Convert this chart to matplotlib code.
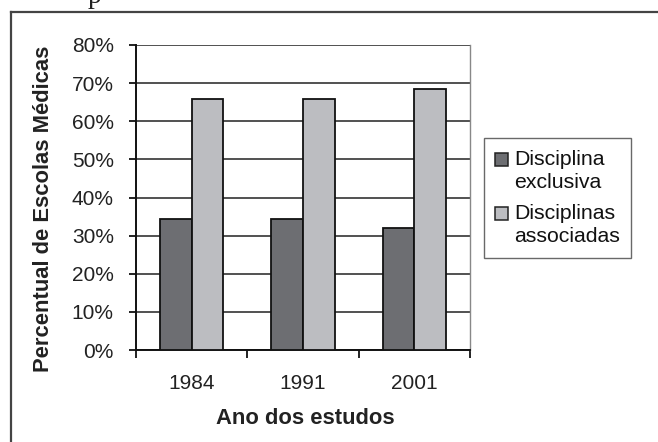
import matplotlib
matplotlib.use("Agg")
import matplotlib.pyplot as plt
from matplotlib.patches import Rectangle
from matplotlib.legend_handler import HandlerBase
from matplotlib.container import BarContainer
from matplotlib.lines import Line2D
import numpy as np

plt.rcParams['font.family'] = ['Liberation Sans', 'DejaVu Sans']

years = ["1984", "1991", "2001"]
exclusiva = [0.344, 0.344, 0.320]
associadas = [0.659, 0.659, 0.684]
series_labels = ["Disciplina\nexclusiva", "Disciplinas\nassociadas"]
ytick_values = [0.0, 0.1, 0.2, 0.3, 0.4, 0.5, 0.6, 0.7, 0.8]
ytick_labels = ["0%", "10%", "20%", "30%", "40%", "50%", "60%", "70%", "80%"]

dark = "#6d6e72"
light = "#bcbdc1"

W, H = 658, 442
fig = plt.figure(figsize=(W / 100, H / 100), dpi=100)
fig.patch.set_facecolor("white")

# outer frame (cropped: top and left visible)
fig.add_artist(Line2D([11 / W, 1.0], [1 - 12 / H, 1 - 12 / H], transform=fig.transFigure,
                      color="#444444", lw=1.6))
fig.add_artist(Line2D([11 / W, 11 / W], [0.0, 1 - 12 / H], transform=fig.transFigure,
                      color="#444444", lw=1.6))
# cut-off caption glyph at the very top (cropped in the reference as well)
fig.text(88 / W, 1 - 3 / H, "p", family="Liberation Serif", fontsize=20, va="baseline",
         ha="left", color="#222222")

ax = fig.add_axes([136 / W, 1 - 350 / H, (470 - 136) / W, (350 - 45) / H])
x = np.arange(len(years))
w = 0.285
ax.bar(x - w / 2, exclusiva, w, color=dark, edgecolor="#111111", linewidth=1.3,
       label=series_labels[0], zorder=3)
ax.bar(x + w / 2, associadas, w, color=light, edgecolor="#111111", linewidth=1.3,
       label=series_labels[1], zorder=3)

ax.set_xlim(-0.5, 2.5)
ax.set_ylim(0, 0.8)
ax.set_yticks(ytick_values)
ax.set_yticklabels(ytick_labels)
ax.yaxis.grid(True, color="#222222", lw=1.1, zorder=0)
ax.set_axisbelow(True)

ax.set_xticks(x)
ax.set_xticklabels(years)
ax.set_xticks([-0.5, 0.5, 1.5, 2.5], minor=True)
ax.tick_params(axis="x", which="major", length=0, pad=17, labelsize=15, colors="#222222")
ax.tick_params(axis="x", which="minor", length=6, width=1.3, color="#111111", direction="out")
ax.tick_params(axis="y", which="major", length=5, width=1.3, pad=11, labelsize=15,
               colors="#222222")
ax.tick_params(axis="y", colors="#111111", labelcolor="#222222")

for s in ["left", "bottom"]:
    ax.spines[s].set_color("#111111")
    ax.spines[s].set_linewidth(1.4)
ax.spines["top"].set_visible(False)
ax.spines["right"].set_color("#888888")
ax.spines["right"].set_linewidth(1.0)

ax.set_xlabel("Ano dos estudos", fontsize=15.8, fontweight="bold", color="#222222")
ax.xaxis.set_label_coords((305 - 136) / 334, (350 - 418) / 305)
ax.xaxis.label.set_va("center")
ax.set_ylabel("Percentual de Escolas Médicas", fontsize=15.8, fontweight="bold",
              color="#222222")
ax.yaxis.set_label_coords((44 - 136) / 334, (350 - 209) / 305)
ax.yaxis.label.set_va("center")


class TopSquare(HandlerBase):
    top_off = -0.1

    def create_artists(self, legend, orig_handle, xdescent, ydescent, width, height,
                       fontsize, trans):
        patch = orig_handle.patches[0] if isinstance(orig_handle, BarContainer) else orig_handle
        s = 0.6 * fontsize
        r = Rectangle((-xdescent, -ydescent + height - s - self.top_off * fontsize), s, s,
                      facecolor=patch.get_facecolor(), edgecolor="#222222",
                      linewidth=1.1, transform=trans)
        return [r]


h, l = ax.get_legend_handles_labels()
leg = fig.legend(h, l, loc="center", bbox_to_anchor=(557.5 / W, 1 - 198 / H),
                 bbox_transform=fig.transFigure, fontsize=15.3, frameon=True,
                 fancybox=False, edgecolor="#444444", handlelength=0.62,
                 handleheight=2.0, handletextpad=0.25, labelspacing=0.6,
                 borderpad=0.55, handler_map={BarContainer: TopSquare()})
leg.get_frame().set_linewidth(1.0)
for t in leg.get_texts():
    t.set_color("#111111")
    t.set_linespacing(1.25)

fig.savefig("out.png", dpi=100, facecolor="white")
